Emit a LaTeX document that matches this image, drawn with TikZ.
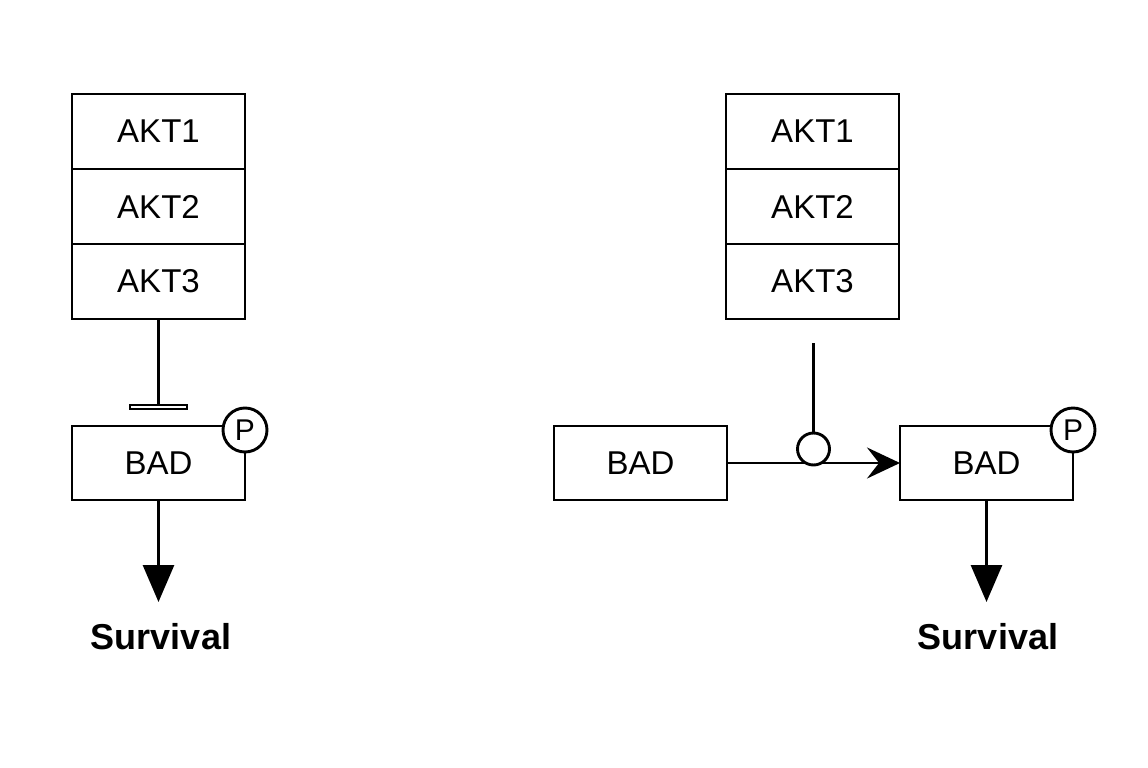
\documentclass[tikz,border=0pt]{standalone}
\usepackage{fontspec}
\setmainfont{Liberation Sans}
\usetikzlibrary{arrows.meta}
\begin{document}
\begin{tikzpicture}[x=1pt,y=-1pt,
  lw/.style={line width=2.9pt},
  box/.style={draw,lw,outer sep=0pt,minimum width=173pt,minimum height=75pt,inner sep=0pt,font=\fontsize{33}{36}\selectfont},
  pcirc/.style={draw,lw,fill=white,circle,minimum size=44pt,inner sep=0pt,font=\fontsize{30}{32}\selectfont},
  lbl/.style={font=\fontsize{36}{40}\selectfont\bfseries,inner sep=0pt},
  down/.style={lw,-{Triangle[length=37pt,width=31pt]}},
  act/.style={lw,-{Stealth[length=33pt,width=31pt,inset=12pt]}},
]
\useasboundingbox (0,0) rectangle (1148,768);
% left
\node[box] (a1) at (158.5,131.5) {AKT1};
\node[box] (a2) at (158.5,206.5) {AKT2};
\node[box] (a3) at (158.5,281.5) {AKT3};
\node[box,minimum height=74pt] (bad) at (158.5,463) {BAD};
\node[pcirc] (p) at (245,430) {P};
\node[draw,line width=2.6pt,fill=white,outer sep=0pt,minimum width=57pt,minimum height=4pt,inner sep=0pt] (barr) at (158.5,407) {};
\draw[lw] (a3.south) -- (barr.north);
\node[lbl] (s) at (161,637) {Survival};
\coordinate (sa) at (158.5,602);
\draw[down] (bad.south) -- (sa);
% right
\node[box] (b1) at (812.5,131.5) {AKT1};
\node[box] (b2) at (812.5,206.5) {AKT2};
\node[box] (b3) at (812.5,281.5) {AKT3};
\node[box,minimum height=74pt] (bad1) at (640.5,463) {BAD};
\node[box,minimum height=74pt] (bad2) at (986.5,463) {BAD};
\node[pcirc] (p2) at (1073,430) {P};
\coordinate (top) at (813.5,343);
\draw[act] (bad1.east) -- (bad2.west);
\node[draw,lw,circle,fill=white,minimum size=32pt,inner sep=0pt] (c) at (813.5,449) {};
\draw[lw] (top) -- (c.north);
\node[lbl] (s2) at (988,637) {Survival};
\coordinate (sb) at (986.5,602);
\draw[down] (bad2.south) -- (sb);
\end{tikzpicture}
\end{document}
